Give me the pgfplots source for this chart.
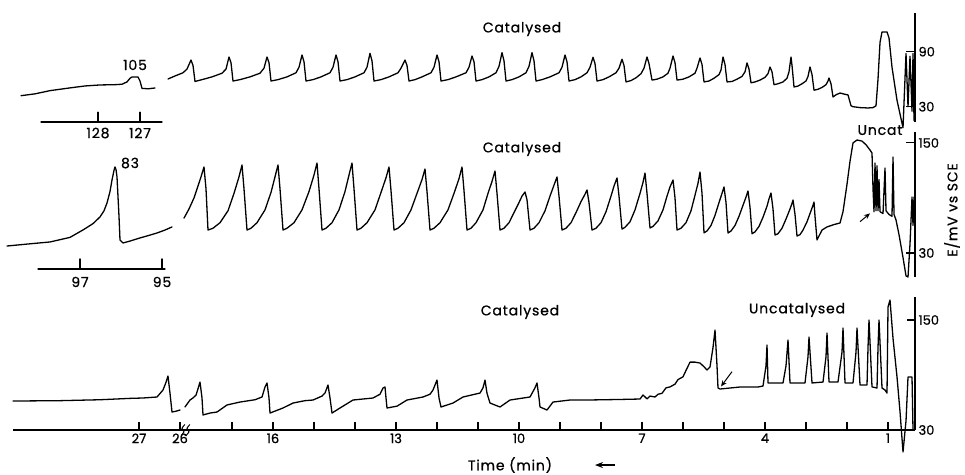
\documentclass[border=0pt]{standalone}
\usepackage{fontspec}
\setmainfont{Poppins}
\newfontfamily\lab[LetterSpace=6, FakeBold=0.8]{Poppins}
\newfontfamily\tickf[FakeBold=0.8]{Poppins}
\usepackage{pgfplots}
\pgfplotsset{compat=1.18}
\usetikzlibrary{arrows.meta}
\newcommand\labfont{\lab\fontsize{14}{16}\selectfont}

% 1 px of the original = 1 pt; y in mV, 0.917 px per mV
\pgfplotsset{
  panel/.style={
    x=1pt, y=0.917pt, xmin=13, xmax=915,
    anchor=south west, clip=false,
    axis y line*=right,
    tick align=inside,
    major tick length=9pt, minor tick length=8pt,
    tick style={line width=1.1pt, black},
    axis line style={line width=1.3pt},
    tick label style={font=\tickf\fontsize{13}{13}\selectfont},
    /pgf/number format/assume math mode=true,
  },
  trace/.style={black, line width=1.3pt, line join=round, line cap=round, mark=none},
}

\begin{document}
\begin{tikzpicture}
\path[use as bounding box] (0pt,0pt) rectangle (965pt,-474pt);

% ---------------- top panel
\begin{axis}[panel, at={(13pt,-122pt)}, ymin=13.3, ymax=131.9, ytick={30,90},
  axis x line=none, xtick=\empty]
\addplot[trace] coordinates {(21,42)(35,44)(50,47.5)(70,50.5)(85,52.6)(100,53.7)(115,54)(122,54.5)(127,57)(130,61)(132,62.4)(138,62.4)(140,58)(142,50)(148,49.5)(155,50.4)};
\addplot[trace] coordinates {(41,13.3)(162,13.3)};
\addplot[trace] coordinates {(98,13.3)(98,24)};
\addplot[trace] coordinates {(140,13.3)(140,24)};
\node[font=\labfont] at (axis cs:135,75.5) {105};
\node[font=\labfont] at (axis cs:98,1.3) {128};
\node[font=\labfont] at (axis cs:140,1.3) {127};
\node[font=\labfont] at (axis cs:522,114.7) {Catalysed};
\addplot[trace] coordinates {
(168,60.2)(175,63.5)(183,67)(187,71)(191,80.9)(193,75)(195,57.5)
(202,59.5)(212,62.5)(222,66.5)(226,71)(229,84.2)(231,78)(233,58)
(240,59.5)(250,62.5)(260,66.5)(264,72)(267,84.2)(269,78)(271,58)
(278,59.5)(287,62.5)(296,67)(299,73)(302,86.4)(304,79)(306,58)
(313,59.5)(321,62.5)(330,67)(333,73)(336,86.4)(338,79)(340,58)
(347,59.5)(355,62.5)(364,67)(367,73)(370,88.2)(372,80)(374,58)
(381,59.5)(389,62.5)(398,67)(401,72)(405,80.9)(407,75)(409,58)
(415,59.5)(422,62.5)(431,67)(434,73)(437,86.4)(439,79)(441,58)
(448,59.5)(456,62.5)(466,67)(469,73)(472,85.3)(474,79)(476,58)
(482,59.5)(489,62.5)(496,67)(499,74)(502,88.9)(504,80)(506,58)
(512,59.5)(519,62.5)(526,67)(529,74)(532,88.9)(534,80)(536,58)
(542,59.5)(550,62.5)(559,67)(562,73)(565,86.4)(567,79)(569,58)
(575,59.5)(581,62.5)(587,67)(590,73)(593,83.9)(595,77)(597,58)
(603,59.5)(609,62.5)(616,67)(619,72)(622,81.7)(624,75)(626,57)
(631,58.5)(636,61.5)(641,66)(644,72)(647,84.2)(649,77)(652,59)
(657,60)(663,62.5)(668,66.5)(670,72)(673,85.3)(675,78)(677,59)
(683,60)(689,62.5)(695,66.5)(697,72)(700,83.1)(702,76)(704,57)
(709,58)(714,61)(719,65)(721,70)(723,84.2)(725,76)(727,57)
(732,57.5)(737,60)(742,63)(745,68)(747,77.7)(749,71)(751,56)
(755,57)(760,59)(765,62)(768,66)(770,73.3)(772,68)(774,54)
(778,55)(783,57)(787,61)(789,68)(791,84.2)(792,75)(794,51.5)
(798,52.5)(802,55)(806,58)(808,63)(810,73.3)(812,65)(814,48)
(818,49)(822,51)(826,54)(828,58)(829,61.3)(831,55)(833,40.6)
(836,43)(840,44.9)(845,43.5)(848,42.8)(851,31)(853,30)(860,29)(868,28.6)(873,29)(876,31)
(878,60)(880,100)(882,111.5)(887,111.5)(889,105)(892,73)(897,37)(903,7)
(906,88)(908,30)(910,85)(912,25)(913,88)(914,15)};
\end{axis}

% ---------------- middle panel
\begin{axis}[panel, at={(13pt,-277pt)}, ymin=3.8, ymax=161.9, ytick={30,150},
  axis x line=none, xtick=\empty]
\addplot[trace] coordinates {(7,37.6)(30,40)(50,42)(70,47)(83,55.1)(93,62)(100,69.3)(104,76)(107,84.5)(110,97)(112,109.6)(114,120)(115,123.8)(116,121)(117,112.9)(119,70)(120,44.2)(123,40.9)(130,43)(140,46.4)(150,49.5)(157,51.8)(165,55)(172,58.4)};
\addplot[trace] coordinates {(38,12.6)(165,12.6)};
\addplot[trace] coordinates {(80,12.6)(80,23.5)};
\addplot[trace] coordinates {(162,12.6)(162,23.5)};
\node[font=\labfont] at (axis cs:130,128.1) {83};
\node[font=\labfont] at (axis cs:80,-1.6) {97};
\node[font=\labfont] at (axis cs:162,-1.6) {95};
\node[font=\labfont] at (axis cs:522,143.4) {Catalysed};
\node[font=\labfont] at (axis cs:880,164) {Uncat};
\node[font=\labfont, rotate=90] at (axis cs:952,76.9) {E/mV vs SCE};
\addplot[trace] coordinates {
(184,68)(189,78)(194,90)(198,103)(201,113)(204,123.8)(206,100)(208,55)
(213,57)(220,63)(228,76)(234,95)(239,113)(242,126)(244,100)(247,55)
(251,57)(257,63)(265,77)(271,96)(275,113)(278,126)(280,100)(283,55)
(287,57)(294,63)(302,77)(309,97)(314,115)(317,128.1)(319,100)(322,55)
(326,57)(332,63)(339,77)(345,97)(349,115)(352,128.1)(354,100)(357,55)
(361,57)(367,63)(375,77)(381,96)(386,112)(389,123.8)(391,98)(394,55)
(398,57)(404,63)(411,77)(417,95)(422,110)(425,121.6)(427,97)(430,55)
(434,57)(440,63)(448,77)(454,95)(459,111)(462,123.8)(464,98)(467,55)
(471,57)(476,63)(483,77)(488,95)(492,108)(495,119.4)(497,95)(500,55)
(504,57)(509,63)(514,74)(519,85)(522,92)(525,96.5)(527,88)(530,55)
(534,57)(539,63)(545,76)(550,92)(554,104)(557,112.9)(559,92)(562,55)
(566,57)(571,63)(576,74)(581,86)(585,94)(587,98.7)(589,85)(592,55)
(596,57)(601,63)(606,75)(611,92)(614,103)(617,111.8)(619,92)(622,56)
(625,58)(630,64)(635,77)(640,95)(643,107)(645,117.2)(647,95)(650,57.3)
(653,59)(658,65)(663,77)(667,92)(670,102)(673,109.6)(675,90)(677,55)
(681,57)(686,63)(691,76)(695,93)(698,106)(700,118.3)(702,95)(704,52)
(707,54)(711,60)(715,71)(719,85)(722,95)(724,102)(726,85)(728,51.8)
(731,54)(735,60)(739,70)(743,82)(746,91)(748,97.6)(750,80)(752,51)
(755,53)(759,59)(763,69)(767,81)(769,89)(771,95.4)(773,78)(775,49.6)
(778,51)(782,57)(786,67)(790,78)(792,84)(793,87.8)(795,72)(797,48.5)
(800,50)(803,55)(807,64)(811,76)(813,82)(814,85.6)(815,70)(817,44.2)
(822,55)(827,58.4)(834,61)(840,62.7)(843,75)(847,105)(850,130)(853,150)(857,153.2)(862,152)(866,148)(870,142.3)(872,139)
(873,100)(874,75)(875,128)(876,76)(877,125)(878,76)(879,110)(880,75)(883,73)(885,122.7)(886,76)(889,72)(892,70)(893,134.7)(894,72)(896,66)(899,50)(903,25)(906,5)(908,3.8)(910,40)(912,91)(913,60)(914,91)};
\addplot[black, line width=1pt, -{Stealth[length=6pt, width=5pt]}] coordinates {(860,64.1)(870,73.2)};
\end{axis}

% ---------------- bottom panel
\begin{axis}[panel, at={(13pt,-430pt)}, ymin=30, ymax=175, ytick={30,150},
  axis x line*=bottom,
  xtick={139,180,273,396,519,642,765,888},
  xticklabels={27,26,16,13,10,7,4,1},
  minor xtick={232,314,355,437,478,560,601,683,724,806,847},
  major tick length=8pt]
\addplot[trace] coordinates {(13,61.6)(60,62)(100,63)(130,64.5)(143,64.9)(157,66)(163,73.6)(166,82)(168,88.9)(170,70)(172,49.6)(176,50.5)(180,51.8)};
\addplot[trace] coordinates {
(185,55.1)(190,62.7)(193,65)(196,68)(198,75)(200,82.3)(202,65)(203,46.4)(210,48.5)(217,49.6)(227,57.3)(240,60.5)(255,63)(262,66)(265,76.9)(267,81.3)(269,65)(270,48.5)
(283,54)(293,59.4)(305,62)(313,62.7)(322,67)(325,70.3)(328,79.1)(330,65)(332,48.5)(340,54)(353,62.7)(373,64.9)(380,69)(383,75.8)(385,76.9)(386,65)(387,54)
(397,56)(407,62.7)(423,66)(430,69)(433,73.6)(437,84.5)(439,65)(441,55.1)(453,59.4)(463,66)(480,70.3)(483,76)(485,84.5)(487,70)(490,59.4)
(500,55.1)(510,62.7)(530,66)(535,76)(537,81.3)(539,65)(540,55.1)(547,51.8)(553,60.5)(570,62.7)(587,62.7)(620,63.3)(640,63.8)
(643,68.2)(647,64)(650,67)(655,66)(658,69)(662,70)(666,76)(670,77)(675,80)(678,85)(683,88)(686,95)(690,104)(695,104)(700,103)(704,99)(707,95.4)(710,98.7)(713,120)(715,139)(717,100)(718,75.8)(720,74.7)
(740,76.9)(758,76.9)(763,78)(766,100)(767,122.7)(768,81.3)(783,81.3)(786,100)(788,128.1)(790,81.3)(805,81.3)(808,110)(809,131.4)(812,81.3)
(823,82.3)(826,110)(827,135.8)(829,82.3)(838,82.3)(842,115)(843,141.2)(845,81.3)(853,81.3)(856,115)(857,141.2)(860,79.1)(867,79.1)(868,120)(869,150)(872,77)
(877,75.8)(878,120)(879,150)(882,75.8)(885,73.6)(887,70.3)(888,164.1)(890,171.8)(893,130)(897,87.8)(900,50)(903,6)(906,40)(908,87.8)(912,87.8)(913,30)};
\addplot[black, line width=1pt, smooth] coordinates {(181,24)(184,28)(182,32)(185,36)};
\addplot[black, line width=1pt, smooth] coordinates {(186,24)(189,28)(187,32)(190,36)};
\addplot[black, line width=1pt, -{Stealth[length=6pt, width=5pt]}] coordinates {(732,93.6)(721,77.5)};
\node[font=\labfont] at (axis cs:520,158.7) {Catalysed};
\node[font=\labfont] at (axis cs:797,160.9) {Uncatalysed};
\node[font=\labfont] at (axis cs:510,-8.2) {Time (min)};
\addplot[black, line width=1.5pt, -{Stealth[length=8pt, width=6pt]}] coordinates {(615,-8.2)(595,-8.2)};
\end{axis}
\end{tikzpicture}
\end{document}
